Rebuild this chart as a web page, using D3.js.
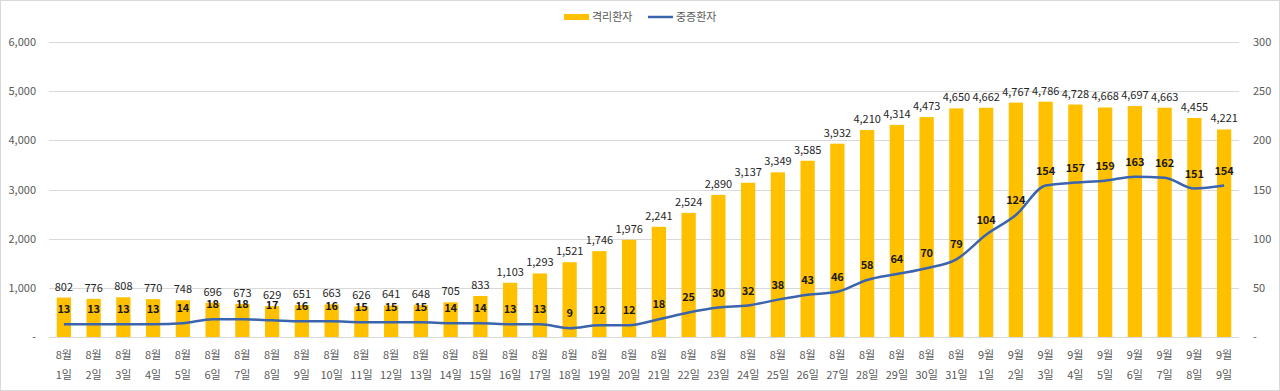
<!DOCTYPE html>
<html>
<head>
<meta charset="utf-8">
<script src="https://cdn.jsdelivr.net/npm/d3@7"></script>
<style>
  body { margin: 0; background: #fff; }
  svg { display: block; font-family: "Noto Sans CJK KR", "Noto Sans", sans-serif; }
</style>
</head>
<body>
<script>
// categories (month / day)
var months = ["8월","8월","8월","8월","8월","8월","8월","8월","8월","8월","8월","8월","8월","8월","8월","8월",
              "8월","8월","8월","8월","8월","8월","8월","8월","8월","8월","8월","8월","8월","8월","8월",
              "9월","9월","9월","9월","9월","9월","9월","9월","9월"];
var days = ["1일","2일","3일","4일","5일","6일","7일","8일","9일","10일","11일","12일","13일","14일","15일","16일",
            "17일","18일","19일","20일","21일","22일","23일","24일","25일","26일","27일","28일","29일","30일","31일",
            "1일","2일","3일","4일","5일","6일","7일","8일","9일"];
// 격리환자 (bars, left axis)
var isolated = [802,776,808,770,748,696,673,629,651,663,626,641,648,705,833,1103,1293,1521,1746,1976,
                2241,2524,2890,3137,3349,3585,3932,4210,4314,4473,4650,4662,4767,4786,4728,4668,4697,4663,4455,4221];
// 중증환자 (line, right axis)
var severe = [13,13,13,13,14,18,18,17,16,16,15,15,15,14,14,13,13,9,12,12,
              18,25,30,32,38,43,46,58,64,70,79,104,124,154,157,159,163,162,151,154];
var leftTicks = [0,1000,2000,3000,4000,5000,6000];
var rightTicks = [0,50,100,150,200,250,300];

var width = 1280, height = 391;
var margin = {top: 42, right: 41, bottom: 54, left: 49};

var svg = d3.select("body").append("svg")
    .attr("width", width)
    .attr("height", height);

svg.append("rect")
    .attr("x", 0.5).attr("y", 0.5)
    .attr("width", width - 1).attr("height", height - 1)
    .attr("fill", "#fff").attr("stroke", "#d9d9d9");

var idx = d3.range(isolated.length);
var x = d3.scaleBand()
    .domain(idx)
    .range([margin.left, width - margin.right])
    .paddingInner(0.52).paddingOuter(0.26);
var yL = d3.scaleLinear().domain([0, 6000]).range([height - margin.bottom, margin.top]);
var yR = d3.scaleLinear().domain([0, 300]).range([height - margin.bottom, margin.top]);

var fmt = d3.format(",");

// gridlines
svg.append("g").selectAll("line")
    .data(leftTicks)
    .enter().append("line")
    .attr("x1", margin.left).attr("x2", width - margin.right)
    .attr("y1", function(d) { return Math.round(yL(d)) + 0.5; })
    .attr("y2", function(d) { return Math.round(yL(d)) + 0.5; })
    .attr("stroke", "#d9d9d9").attr("stroke-width", 1);

// left axis labels
svg.append("g").selectAll("text")
    .data(leftTicks)
    .enter().append("text")
    .attr("x", 36)
    .attr("y", function(d) { return yL(d) + 4; })
    .attr("text-anchor", "end")
    .attr("font-size", 11)
    .attr("fill", "#595959")
    .text(function(d) { return d === 0 ? "-" : fmt(d); });

// right axis labels
svg.append("g").selectAll("text")
    .data(rightTicks)
    .enter().append("text")
    .attr("x", 1253)
    .attr("y", function(d) { return yR(d) + 4; })
    .attr("text-anchor", "start")
    .attr("font-size", 11)
    .attr("fill", "#595959")
    .text(function(d) { return d === 0 ? "-" : fmt(d); });

// bars
svg.append("g").selectAll("rect")
    .data(idx)
    .enter().append("rect")
    .attr("x", function(i) { return x(i); })
    .attr("y", function(i) { return yL(isolated[i]); })
    .attr("width", x.bandwidth())
    .attr("height", function(i) { return yL(0) - yL(isolated[i]); })
    .attr("fill", "#ffc000");

// bar labels
svg.append("g").selectAll("text")
    .data(idx)
    .enter().append("text")
    .attr("x", function(i) { return x(i) + x.bandwidth() / 2; })
    .attr("y", function(i) { return yL(isolated[i]) - 7; })
    .attr("text-anchor", "middle")
    .attr("font-size", 11)
    .attr("fill", "#262626")
    .text(function(i) { return fmt(isolated[i]); });

// line
var line = d3.line()
    .x(function(i) { return x(i) + x.bandwidth() / 2; })
    .y(function(i) { return yR(severe[i]); })
    .curve(d3.curveMonotoneX);

svg.append("path")
    .datum(idx)
    .attr("d", line)
    .attr("fill", "none")
    .attr("stroke", "#3a64ad")
    .attr("stroke-width", 2.5)
    .attr("stroke-linejoin", "round");

// line labels
svg.append("g").selectAll("text")
    .data(idx)
    .enter().append("text")
    .attr("x", function(i) { return x(i) + x.bandwidth() / 2; })
    .attr("y", function(i) { return yR(severe[i]) - 11; })
    .attr("text-anchor", "middle")
    .attr("font-size", 11)
    .attr("font-weight", "bold")
    .attr("fill", "#1a1a1a")
    .text(function(i) { return severe[i]; });

// category labels
var cat = svg.append("g").selectAll("g")
    .data(idx)
    .enter().append("g");
cat.append("text")
    .attr("x", function(i) { return x(i) + x.bandwidth() / 2; })
    .attr("y", 359)
    .attr("text-anchor", "middle")
    .attr("font-size", 11)
    .attr("fill", "#595959")
    .text(function(i) { return months[i]; });
cat.append("text")
    .attr("x", function(i) { return x(i) + x.bandwidth() / 2; })
    .attr("y", 379)
    .attr("text-anchor", "middle")
    .attr("font-size", 11)
    .attr("fill", "#595959")
    .text(function(i) { return days[i]; });

// legend
var legend = svg.append("g");
legend.append("rect")
    .attr("x", 564).attr("y", 14).attr("width", 25).attr("height", 6)
    .attr("fill", "#ffc000");
legend.append("text")
    .attr("x", 592).attr("y", 21)
    .attr("font-size", 11).attr("fill", "#595959")
    .text("격리환자");
legend.append("line")
    .attr("x1", 648).attr("x2", 673).attr("y1", 17).attr("y2", 17)
    .attr("stroke", "#3a64ad").attr("stroke-width", 2.5);
legend.append("text")
    .attr("x", 676).attr("y", 21)
    .attr("font-size", 11).attr("fill", "#595959")
    .text("중증환자");
</script>
</body>
</html>
